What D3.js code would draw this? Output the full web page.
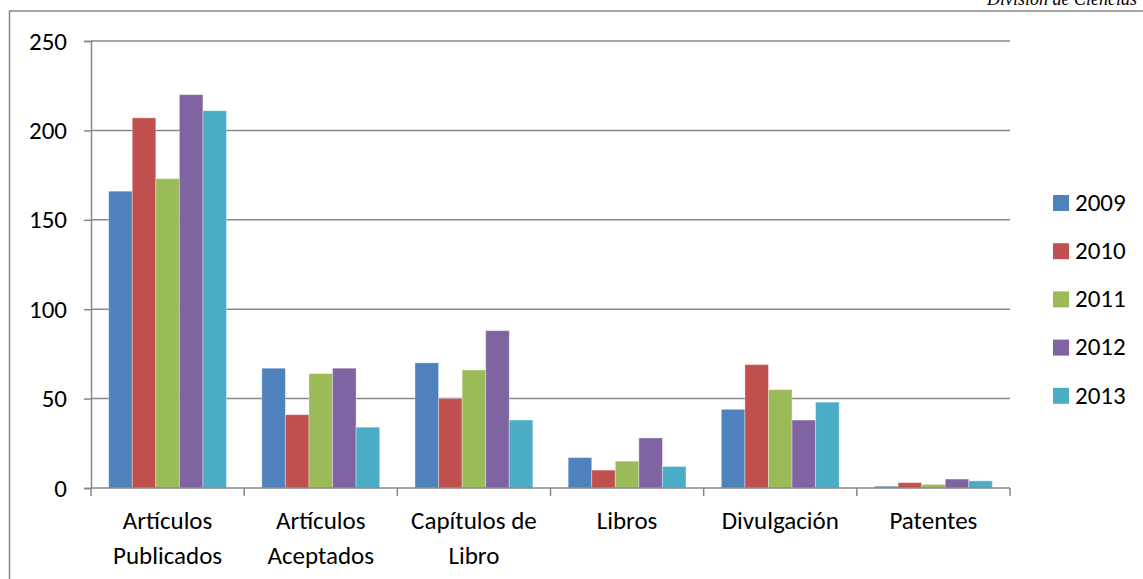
<!DOCTYPE html>
<html>
<head>
<meta charset="utf-8">
<script src="https://cdn.jsdelivr.net/npm/d3@7"></script>
<style>
  body { margin: 0; background: #fff; }
  svg { display: block; }
  text { font-family: Carlito, Calibri, Lato, sans-serif; fill: #000; }
</style>
</head>
<body>
<div id="chart"></div>
<script>
// data
var categories = [["Artículos", "Publicados"], ["Artículos", "Aceptados"], ["Capítulos de", "Libro"],
                  ["Libros"], ["Divulgación"], ["Patentes"]];
var years = ["2009", "2010", "2011", "2012", "2013"];
var s2009 = [166, 67, 70, 17, 44, 1];
var s2010 = [207, 41, 50, 10, 69, 3];
var s2011 = [173, 64, 66, 15, 55, 2];
var s2012 = [220, 67, 88, 28, 38, 5];
var s2013 = [211, 34, 38, 12, 48, 4];
var yTicks = [0, 50, 100, 150, 200, 250];
var colors = ["#4F81BD", "#C0504D", "#9BBB59", "#8064A2", "#4BACC6"];

var series = [s2009, s2010, s2011, s2012, s2013];
var W = 1143, H = 579;
var plotL = 91, plotR = 1010, plotT = 41, plotB = 488;
var grey = "#878787";
var fs = "25px";

var svg = d3.select("#chart").append("svg")
    .attr("width", W).attr("height", H);

// outer frame of the chart area
svg.append("rect")
    .attr("x", 9.5).attr("y", 11)
    .attr("width", W + 20).attr("height", H + 20)
    .attr("fill", "none").attr("stroke", grey).attr("stroke-width", 1.5);

// page header, cut at the top
svg.append("text")
    .attr("x", 1137).attr("y", 5)
    .attr("text-anchor", "end")
    .style("font-family", "'Liberation Serif', 'Times New Roman', serif")
    .style("font-style", "italic")
    .style("font-size", "18px")
    .text("División de Ciencias");

var keys = categories.map(function(c) { return c.join(" "); });

var x0 = d3.scaleBand().domain(keys).range([plotL, plotR]);
var x1 = d3.scaleBand().domain(years).range([0, x0.bandwidth()])
    .paddingInner(0).paddingOuter(0.75);
var y = d3.scaleLinear().domain([0, 250]).range([plotB, plotT]);

// gridlines
svg.append("g").selectAll("line")
    .data(yTicks.filter(function(d) { return d > 0; }))
    .enter().append("line")
    .attr("x1", plotL).attr("x2", plotR)
    .attr("y1", function(d) { return y(d); })
    .attr("y2", function(d) { return y(d); })
    .attr("stroke", grey).attr("stroke-width", 1.5);

// y axis
var yAxis = svg.append("g")
    .attr("transform", "translate(" + plotL + ",0)")
    .call(d3.axisLeft(y).tickValues(yTicks).tickSize(7).tickPadding(17));
yAxis.select(".domain").attr("stroke", grey).attr("stroke-width", 1.5);
yAxis.selectAll(".tick line").attr("stroke", grey).attr("stroke-width", 1.5);
yAxis.selectAll(".tick text")
    .style("font-family", "Carlito, Calibri, Lato, sans-serif")
    .style("font-size", fs).attr("fill", "#000");

// bars
var rows = keys.map(function(k, i) {
    return { key: k, vals: years.map(function(yr, j) { return { year: yr, v: series[j][i], c: colors[j] }; }) };
});

var groups = svg.append("g").selectAll("g")
    .data(rows).enter().append("g")
    .attr("transform", function(d) { return "translate(" + x0(d.key) + ",0)"; });

groups.selectAll("rect")
    .data(function(d) { return d.vals; })
    .enter().append("rect")
    .attr("x", function(d) { return x1(d.year); })
    .attr("width", x1.bandwidth())
    .attr("y", function(d) { return y(d.v); })
    .attr("height", function(d) { return plotB - y(d.v); })
    .attr("fill", function(d) { return d.c; })
    .attr("stroke", "rgba(255,255,255,0.35)")
    .attr("stroke-width", 1);

// x axis line and ticks at category boundaries
svg.append("line")
    .attr("x1", plotL).attr("x2", plotR)
    .attr("y1", plotB).attr("y2", plotB)
    .attr("stroke", grey).attr("stroke-width", 1.5);

var bounds = keys.map(function(k) { return x0(k); }).concat([plotR]);
svg.append("g").selectAll("line")
    .data(bounds).enter().append("line")
    .attr("x1", function(d) { return d; }).attr("x2", function(d) { return d; })
    .attr("y1", plotB).attr("y2", plotB + 8)
    .attr("stroke", grey).attr("stroke-width", 1.5);

// category labels (wrapped like the original)
var lab = svg.append("g").selectAll("text")
    .data(categories).enter().append("text")
    .attr("text-anchor", "middle")
    .style("font-size", fs)
    .attr("x", function(d, i) { return x0(keys[i]) + x0.bandwidth() / 2; })
    .attr("y", 529);
lab.selectAll("tspan")
    .data(function(d) { return d; })
    .enter().append("tspan")
    .attr("x", function() { return d3.select(this.parentNode).attr("x"); })
    .attr("dy", function(d, i) { return i === 0 ? 0 : 34.5; })
    .text(function(d) { return d; });

// legend
var legend = svg.selectAll(".legend")
    .data(years)
    .enter().append("g")
    .attr("class", "legend")
    .attr("transform", function(d, i) { return "translate(1053," + (195 + i * 48.2) + ")"; });

legend.append("rect")
    .attr("width", 16).attr("height", 16)
    .attr("fill", function(d, i) { return colors[i]; });

legend.append("text")
    .attr("x", 22).attr("y", 7)
    .attr("dy", ".35em")
    .style("font-size", fs)
    .text(function(d) { return d; });
</script>
</body>
</html>
